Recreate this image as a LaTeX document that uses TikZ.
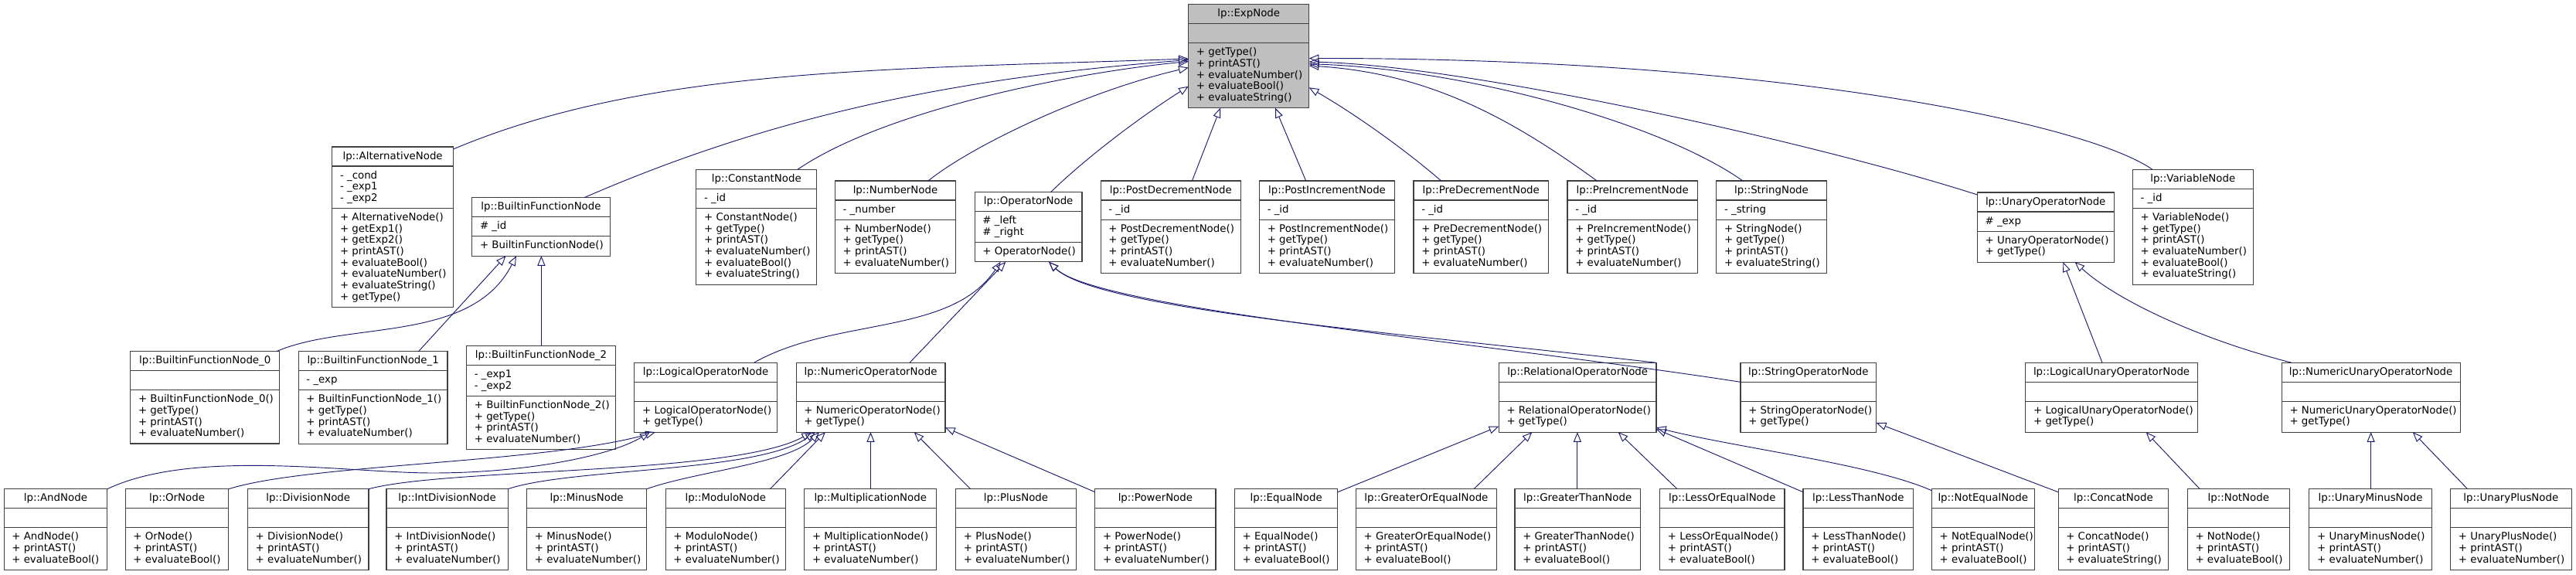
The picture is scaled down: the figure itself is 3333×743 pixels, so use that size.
\documentclass[tikz,border=0pt]{standalone}
\usepackage{fontspec}
\newfontfamily\dvs{DejaVu Sans}
\usetikzlibrary{arrows.meta,calc}
\definecolor{edgec}{HTML}{191970}
\definecolor{boxline}{HTML}{404040}
\definecolor{expfill}{HTML}{BFBFBF}
\tikzset{ufill/.style={fill=white}}
% #1 name, #2 left, #3 top, #4 width, #5 n attrs, #6 n methods, #7 title, #8 attrs, #9 methods
\newcommand\umlbox[9]{%
  \pgfmathsetmacro\uA{(#5==0) ? 25 : 14.7*#5+10.5}%
  \pgfmathsetmacro\uM{(#6==0) ? 25 : 14.7*#6+10.5}%
  \pgfmathsetmacro\uH{25+\uA+\uM}%
  \pgfmathsetmacro\uY{25+\uA}%
  \pgfmathsetmacro\uMy{25+\uA+16}%
  \node[box, ufill, minimum width=#4*0.75pt, minimum height=\uH*0.75pt] (#1) at (#2,#3) {};
  \draw[sep] ($(#1.north west)+(0,25)$) -- ($(#1.north east)+(0,25)$);
  \draw[sep] ($(#1.north west)+(0,\uY)$) -- ($(#1.north east)+(0,\uY)$);
  \node[txt, anchor=base] (#1-t) at ($(#1.north)+(0,16)$) {#7};
  \ifnum#5>0\relax
    \node[txt, anchor=base west] (#1-a) at ($(#1.north west)+(10,41)$) {\begin{tabular}[t]{@{}l@{}}#8\end{tabular}};
  \fi
  \node[txt, anchor=base west] (#1-m) at ($(#1.north west)+(10,\uMy)$) {\begin{tabular}[t]{@{}l@{}}#9\end{tabular}};
}
\begin{document}
\begin{tikzpicture}[x=0.75pt,y=-0.75pt,
  box/.style={draw=boxline, line width=0.8pt, inner sep=0, outer sep=0, anchor=north west},
  sep/.style={draw=boxline, line width=0.8pt},
  txt/.style={inner sep=0, font=\dvs\fontsize{10}{11}\selectfont, text=black},
  inh/.style={draw=edgec, line width=0.7pt, -{Triangle[open,length=9.5pt,width=7.5pt]}},
]
\useasboundingbox (0,0) rectangle (3333,743);

% ---------- row 1 ----------
\tikzset{ufill/.style={fill=expfill}}
\umlbox{Exp}{1537.7}{5.7}{156}{0}{5}{lp::ExpNode}{}{+ getType()\\+ printAST()\\+ evaluateNumber()\\+ evaluateBool()\\+ evaluateString()}
\tikzset{ufill/.style={fill=white}}

% ---------- row 2 ----------
\umlbox{Alt}{429.8}{190}{156.6}{3}{8}{lp::AlternativeNode}{- \_cond\\- \_exp1\\- \_exp2}{+ AlternativeNode()\\+ getExp1()\\+ getExp2()\\+ printAST()\\+ evaluateBool()\\+ evaluateNumber()\\+ evaluateString()\\+ getType()}
\umlbox{Bif}{610.8}{255.7}{178.4}{1}{1}{lp::BuiltinFunctionNode}{\# \_id}{+ BuiltinFunctionNode()}
\umlbox{Const}{900.9}{219.3}{155.8}{1}{6}{lp::ConstantNode}{- \_id}{+ ConstantNode()\\+ getType()\\+ printAST()\\+ evaluateNumber()\\+ evaluateBool()\\+ evaluateString()}
\umlbox{Num}{1080.4}{234}{156.2}{1}{4}{lp::NumberNode}{- \_number}{+ NumberNode()\\+ getType()\\+ printAST()\\+ evaluateNumber()}
\umlbox{Op}{1261.2}{248.7}{138.8}{2}{1}{lp::OperatorNode}{\# \_left\\\# \_right}{+ OperatorNode()}
\umlbox{PostDec}{1424.1}{234}{181.3}{1}{4}{lp::PostDecrementNode}{- \_id}{+ PostDecrementNode()\\+ getType()\\+ printAST()\\+ evaluateNumber()}
\umlbox{PostInc}{1629.5}{234}{175}{1}{4}{lp::PostIncrementNode}{- \_id}{+ PostIncrementNode()\\+ getType()\\+ printAST()\\+ evaluateNumber()}
\umlbox{PreDec}{1829}{234}{174.5}{1}{4}{lp::PreDecrementNode}{- \_id}{+ PreDecrementNode()\\+ getType()\\+ printAST()\\+ evaluateNumber()}
\umlbox{PreInc}{2028}{234}{168.3}{1}{4}{lp::PreIncrementNode}{- \_id}{+ PreIncrementNode()\\+ getType()\\+ printAST()\\+ evaluateNumber()}
\umlbox{Str}{2220.8}{234}{142.3}{1}{4}{lp::StringNode}{- \_string}{+ StringNode()\\+ getType()\\+ printAST()\\+ evaluateString()}
\umlbox{UnOp}{2558.3}{249}{176.8}{1}{2}{lp::UnaryOperatorNode}{\# \_exp}{+ UnaryOperatorNode()\\+ getType()}
\umlbox{Var}{2759.3}{219.3}{155.9}{1}{6}{lp::VariableNode}{- \_id}{+ VariableNode()\\+ getType()\\+ printAST()\\+ evaluateNumber()\\+ evaluateBool()\\+ evaluateString()}

% ---------- row 3 ----------
\umlbox{Bif0}{168.75}{454.7}{192.9}{0}{4}{lp::BuiltinFunctionNode\_0}{}{+ BuiltinFunctionNode\_0()\\+ getType()\\+ printAST()\\+ evaluateNumber()}
\umlbox{Bif1}{386.2}{454.7}{192.8}{1}{4}{lp::BuiltinFunctionNode\_1}{- \_exp}{+ BuiltinFunctionNode\_1()\\+ getType()\\+ printAST()\\+ evaluateNumber()}
\umlbox{Bif2}{603.6}{447.7}{192.8}{2}{4}{lp::BuiltinFunctionNode\_2}{- \_exp1\\- \_exp2}{+ BuiltinFunctionNode\_2()\\+ getType()\\+ printAST()\\+ evaluateNumber()}
\umlbox{LogOp}{820.9}{469.3}{184.2}{0}{2}{lp::LogicalOperatorNode}{}{+ LogicalOperatorNode()\\+ getType()}
\umlbox{NumOp}{1030.1}{469.3}{192.9}{0}{2}{lp::NumericOperatorNode}{}{+ NumericOperatorNode()\\+ getType()}
\umlbox{RelOp}{1939.3}{469.3}{203.7}{0}{2}{lp::RelationalOperatorNode}{}{+ RelationalOperatorNode()\\+ getType()}
\umlbox{StrOp}{2252}{469.3}{175.8}{0}{2}{lp::StringOperatorNode}{}{+ StringOperatorNode()\\+ getType()}
\umlbox{LogUn}{2620.8}{469.3}{222.5}{0}{2}{lp::LogicalUnaryOperatorNode}{}{+ LogicalUnaryOperatorNode()\\+ getType()}
\umlbox{NumUn}{2952.2}{469.3}{230.8}{0}{2}{lp::NumericUnaryOperatorNode}{}{+ NumericUnaryOperatorNode()\\+ getType()}

% ---------- row 4 ----------
\umlbox{And}{5.1}{632.7}{133.7}{0}{3}{lp::AndNode}{}{+ AndNode()\\+ printAST()\\+ evaluateBool()}
\umlbox{Or}{162.2}{632.7}{133.7}{0}{3}{lp::OrNode}{}{+ OrNode()\\+ printAST()\\+ evaluateBool()}
\umlbox{Div}{320.4}{632.7}{156.6}{0}{3}{lp::DivisionNode}{}{+ DivisionNode()\\+ printAST()\\+ evaluateNumber()}
\umlbox{IntDiv}{500}{632.7}{157.1}{0}{3}{lp::IntDivisionNode}{}{+ IntDivisionNode()\\+ printAST()\\+ evaluateNumber()}
\umlbox{Minus}{681.6}{632.7}{155.1}{0}{3}{lp::MinusNode}{}{+ MinusNode()\\+ printAST()\\+ evaluateNumber()}
\umlbox{Mod}{861.2}{632.7}{155.1}{0}{3}{lp::ModuloNode}{}{+ ModuloNode()\\+ printAST()\\+ evaluateNumber()}
\umlbox{Mult}{1040.8}{632.7}{170.9}{0}{3}{lp::MultiplicationNode}{}{+ MultiplicationNode()\\+ printAST()\\+ evaluateNumber()}
\umlbox{Plus}{1236.7}{632.7}{155.6}{0}{3}{lp::PlusNode}{}{+ PlusNode()\\+ printAST()\\+ evaluateNumber()}
\umlbox{Pow}{1416.8}{632.7}{156.2}{0}{3}{lp::PowerNode}{}{+ PowerNode()\\+ printAST()\\+ evaluateNumber()}
\umlbox{Equal}{1597.4}{632.7}{133.5}{0}{3}{lp::EqualNode}{}{+ EqualNode()\\+ printAST()\\+ evaluateBool()}
\umlbox{GE}{1754.4}{632.7}{182}{0}{3}{lp::GreaterOrEqualNode}{}{+ GreaterOrEqualNode()\\+ printAST()\\+ evaluateBool()}
\umlbox{GT}{1960}{632.7}{162.4}{0}{3}{lp::GreaterThanNode}{}{+ GreaterThanNode()\\+ printAST()\\+ evaluateBool()}
\umlbox{LE}{2147.6}{632.7}{161.4}{0}{3}{lp::LessOrEqualNode}{}{+ LessOrEqualNode()\\+ printAST()\\+ evaluateBool()}
\umlbox{LT}{2333}{632.7}{142.5}{0}{3}{lp::LessThanNode}{}{+ LessThanNode()\\+ printAST()\\+ evaluateBool()}
\umlbox{NE}{2499.4}{632.7}{132.7}{0}{3}{lp::NotEqualNode}{}{+ NotEqualNode()\\+ printAST()\\+ evaluateBool()}
\umlbox{Concat}{2663}{632.7}{142.8}{0}{3}{lp::ConcatNode}{}{+ ConcatNode()\\+ printAST()\\+ evaluateString()}
\umlbox{Not}{2830.2}{632.7}{132.1}{0}{3}{lp::NotNode}{}{+ NotNode()\\+ printAST()\\+ evaluateBool()}
\umlbox{UMinus}{2987.9}{632.7}{158.3}{0}{3}{lp::UnaryMinusNode}{}{+ UnaryMinusNode()\\+ printAST()\\+ evaluateNumber()}
\umlbox{UPlus}{3170.6}{632.7}{156.4}{0}{3}{lp::UnaryPlusNode}{}{+ UnaryPlusNode()\\+ printAST()\\+ evaluateNumber()}

% ---------- edges to ExpNode ----------
\draw[inh] ($(Alt.north east)+(0,3)$) .. controls (836,88) and (1138,90) .. ($(Exp.north west)+(0,70.3)$);
\draw[inh] ($(Bif.north west)+(145.1,0)$) .. controls (1010,145) and (1250,100) .. ($(Exp.north west)+(0,71.8)$);
\draw[inh] ($(Const.north west)+(131.1,0)$) .. controls (1142,144) and (1380,95) .. ($(Exp.north west)+(0,73.8)$);
\draw[inh] ($(Num.north west)+(120.5,0)$) .. controls (1261,186) and (1408,117.5) .. ($(Exp.north west)+(0,81.8)$);
\draw[inh] ($(Op.north west)+(98.2,0)$) .. controls (1400,209) and (1468,156) .. ($(Exp.north west)+(0,106)$);
\draw[inh] ($(PostDec.north west)+(118.3,0)$) -- ($(Exp.south west)+(41.3,0)$);
\draw[inh] ($(PostInc.north west)+(60.2,0)$) -- ($(Exp.south west)+(112.3,0)$);
\draw[inh] ($(PreDec.north west)+(35.6,0)$) .. controls (1815,191) and (1749,145) .. ($(Exp.north east)+(0,107.6)$);
\draw[inh] ($(PreInc.north west)+(38.2,0)$) .. controls (1956,154) and (1850,95) .. ($(Exp.north east)+(0,79.3)$);
\draw[inh] ($(Str.north west)+(34.1,0)$) .. controls (2150,160) and (1900,90) .. ($(Exp.north east)+(0,77)$);
\draw[inh] ($(UnOp.north west)+(0,3)$) .. controls (2350,185) and (1900,85) .. ($(Exp.north east)+(0,74.3)$);
\draw[inh] ($(Var.north west)+(25.6,0)$) .. controls (2700,160) and (2300,75) .. ($(Exp.north east)+(0,69.8)$);

% ---------- BuiltinFunctionNode children ----------
\draw[inh] ($(Bif0.north east)+(-4,0)$) .. controls (450,415) and (610,445) .. ($(Bif.south west)+(57.2,0)$);
\draw[inh] ($(Bif1.north west)+(155.3,0)$) -- ($(Bif.south west)+(43.7,0)$);
\draw[inh] ($(Bif2.north west)+(96.8,0)$) -- ($(Bif.south west)+(89.6,0)$);

% ---------- OperatorNode children ----------
\draw[inh] ($(LogOp.north west)+(154.6,0)$) .. controls (1080,410) and (1230,435) .. ($(Op.south west)+(33.4,0)$);
\draw[inh] ($(NumOp.north west)+(146.9,0)$) -- ($(Op.south west)+(40.1,0)$);
\draw[inh] (RelOp.north east) .. controls (1800,430) and (1420,400) .. ($(Op.south west)+(95.8,0)$);
\draw[inh] ($(StrOp.north west)+(0,25)$) .. controls (1900,440) and (1420,400) .. ($(Op.south west)+(95.8,0)$);

% ---------- UnaryOperatorNode children ----------
\draw[inh] ($(LogUn.north west)+(99.2,0)$) -- ($(UnOp.south west)+(111,0)$);
\draw[inh] ($(NumUn.north west)+(12.8,0)$) .. controls (2850,440) and (2740,390) .. ($(UnOp.south west)+(126.3,0)$);

% ---------- LogicalOperatorNode children ----------
\draw[inh] (And.north east) .. controls (250,580) and (450,612) .. (560,612) .. controls (680,612) and (790,590) .. ($(LogOp.south west)+(20,0)$);
\draw[inh] (Or.north east) .. controls (400,600) and (700,600) .. ($(LogOp.south west)+(27,0)$);

% ---------- NumericOperatorNode children ----------
\draw[inh] (Div.north east) .. controls (580,605) and (950,615) .. ($(NumOp.south west)+(19.9,0)$);
\draw[inh] (IntDiv.north east) .. controls (740,605) and (980,612) .. ($(NumOp.south west)+(24.9,0)$);
\draw[inh] (Minus.north east) .. controls (900,610) and (1020,600) .. ($(NumOp.south west)+(29.9,0)$);
\draw[inh] ($(Mod.north west)+(135.2,0)$) -- ($(NumOp.south west)+(37.8,0)$);
\draw[inh] ($(Mult.north west)+(85.7,0)$) -- ($(NumOp.south west)+(96.4,0)$);
\draw[inh] ($(Plus.north west)+(18.9,0)$) -- ($(NumOp.south west)+(152.6,0)$);
\draw[inh] ($(Pow.north west)+(0,4)$) -- ($(NumOp.south east)+(0,-6)$);

% ---------- RelationalOperatorNode children ----------
\draw[inh] ($(Equal.north east)+(0,4)$) -- ($(RelOp.south west)+(0,-7.6)$);
\draw[inh] ($(GE.north west)+(152.6,0)$) -- ($(RelOp.south west)+(43,0)$);
\draw[inh] ($(GT.north west)+(80.9,0)$) -- ($(RelOp.south west)+(101.6,0)$);
\draw[inh] ($(LE.north west)+(22.4,0)$) -- ($(RelOp.south west)+(154.4,0)$);
\draw[inh] ($(LT.north west)+(0,4)$) -- ($(RelOp.south east)+(0,-4)$);
\draw[inh] ($(NE.north west)+(0,2)$) .. controls (2420,600) and (2250,580) .. ($(RelOp.south east)+(0,-6)$);

% ---------- other children ----------
\draw[inh] ($(Concat.north west)+(0,4)$) -- ($(StrOp.south east)+(0,-12)$);
\draw[inh] ($(Not.north west)+(16.1,0)$) -- ($(LogUn.south west)+(155.8,0)$);
\draw[inh] ($(UMinus.north west)+(79.7,0)$) -- ($(NumUn.south west)+(115.4,0)$);
\draw[inh] ($(UPlus.north west)+(22,0)$) -- ($(NumUn.south west)+(169.6,0)$);
\end{tikzpicture}
\end{document}
